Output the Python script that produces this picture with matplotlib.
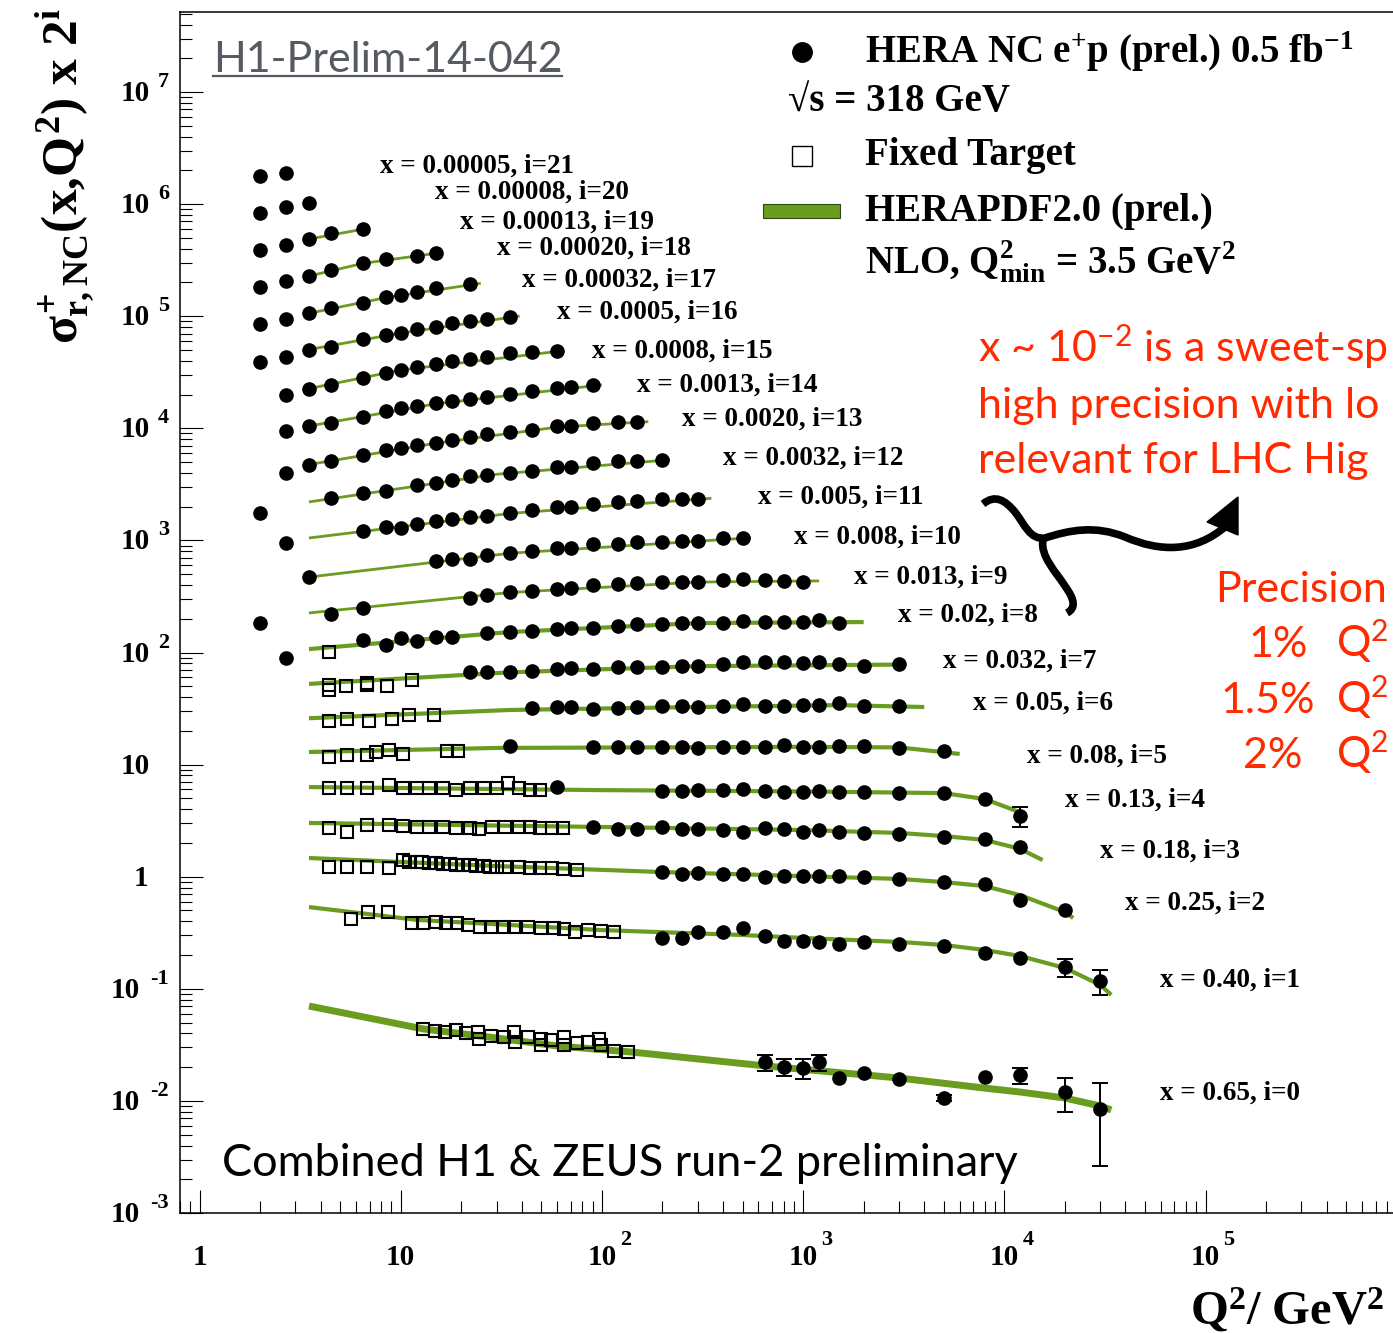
import numpy as np
import matplotlib
matplotlib.use("Agg")
import matplotlib.pyplot as plt
from matplotlib import transforms
from matplotlib.lines import Line2D
from matplotlib.patches import Rectangle, PathPatch, Polygon
from matplotlib.path import Path
from matplotlib.ticker import LogLocator, NullFormatter

plt.rcParams['font.family'] = ['Liberation Serif', 'DejaVu Sans']
plt.rcParams['font.weight'] = 'bold'
plt.rcParams['mathtext.fontset'] = 'custom'
plt.rcParams['mathtext.rm'] = 'Liberation Serif:bold'
plt.rcParams['mathtext.it'] = 'Liberation Serif:bold'
plt.rcParams['mathtext.bf'] = 'Liberation Serif:bold'
plt.rcParams['mathtext.sf'] = 'Liberation Serif:bold'

# bins : i -> x value
x_bins = ["0.65", "0.40", "0.25", "0.18", "0.13", "0.08", "0.05", "0.032", "0.02", "0.013",
          "0.008", "0.005", "0.0032", "0.0020", "0.0013", "0.0008", "0.0005", "0.00032",
          "0.00020", "0.00013", "0.00008", "0.00005"]

# HERA combined points (Q2, sigma_r), plotted as sigma_r * 2^i
hera_q2 = {
    21: [2.0, 2.7],
    20: [2.0, 2.7, 3.5],
    19: [2.0, 2.7, 3.5, 4.5, 6.5],
    18: [2.0, 2.7, 3.5, 4.5, 6.5, 8.5, 12, 15],
    17: [2.0, 2.7, 3.5, 4.5, 6.5, 8.5, 10, 12, 15, 22],
    16: [2.0, 2.7, 3.5, 4.5, 6.5, 8.5, 10, 12, 15, 18, 22, 27, 35],
    15: [2.7, 3.5, 4.5, 6.5, 8.5, 10, 12, 15, 18, 22, 27, 35, 45, 60],
    14: [2.7, 3.5, 4.5, 6.5, 8.5, 10, 12, 15, 18, 22, 27, 35, 45, 60, 70, 90],
    13: [2.7, 3.5, 4.5, 6.5, 8.5, 10, 12, 15, 18, 22, 27, 35, 45, 60, 70, 90, 120, 150],
    12: [2.0, 4.5, 6.5, 8.5, 12, 15, 18, 22, 27, 35, 45, 60, 70, 90, 120, 150, 200],
    11: [2.7, 6.5, 8.5, 10, 12, 15, 18, 22, 27, 35, 45, 60, 70, 90, 120, 150, 200, 250, 300],
    10: [3.5, 15, 18, 22, 27, 35, 45, 60, 70, 90, 120, 150, 200, 250, 300, 400, 500],
    9: [2.0, 4.5, 6.5, 22, 27, 35, 45, 60, 70, 90, 120, 150, 200, 250, 300, 400, 500, 650, 800, 1000],
    8: [2.7, 6.5, 8.5, 10, 12, 15, 18, 27, 35, 45, 60, 70, 90, 120, 150, 200, 250, 300, 400, 500,
        650, 800, 1000, 1200, 1500],
    7: [22, 27, 35, 45, 60, 70, 90, 120, 150, 200, 250, 300, 400, 500, 650, 800, 1000, 1200, 1500,
        2000, 3000],
    6: [45, 60, 70, 90, 120, 150, 200, 250, 300, 400, 500, 650, 800, 1000, 1200, 1500, 2000, 3000],
    5: [35, 90, 120, 150, 200, 250, 300, 400, 500, 650, 800, 1000, 1200, 1500, 2000, 3000, 5000],
    4: [60, 200, 250, 300, 400, 500, 650, 800, 1000, 1200, 1500, 2000, 3000, 5000, 8000, 12000],
    3: [90, 120, 150, 200, 250, 300, 400, 500, 650, 800, 1000, 1200, 1500, 2000, 3000, 5000, 8000,
        12000],
    2: [200, 250, 300, 400, 500, 650, 800, 1000, 1200, 1500, 2000, 3000, 5000, 8000, 12000, 20000],
    1: [200, 250, 300, 400, 500, 650, 800, 1000, 1200, 1500, 2000, 3000, 5000, 8000, 12000, 20000,
        30000],
    0: [650, 800, 1000, 1200, 1500, 2000, 3000, 5000, 8000, 12000, 20000, 30000],
}
hera_sigma = {
    21: [0.85, 0.90],
    20: [0.80, 0.90, 0.975],
    19: [0.742, 0.823, 0.931, 1.05, 1.143],
    18: [0.695, 0.786, 0.871, 0.986, 1.138, 1.235, 1.314, 1.398],
    17: [0.650, 0.720, 0.814, 0.902, 1.0, 1.131, 1.179, 1.254, 1.361, 1.477],
    16: [0.596, 0.660, 0.763, 0.811, 0.956, 1.038, 1.081, 1.174, 1.223, 1.328, 1.383, 1.441, 1.502],
    15: [0.604, 0.684, 0.742, 0.857, 0.950, 1.01, 1.074, 1.143, 1.215, 1.266, 1.319, 1.433, 1.462,
         1.492],
    14: [0.578, 0.640, 0.681, 0.770, 0.87, 0.925, 0.965, 1.025, 1.07, 1.115, 1.16, 1.235, 1.31, 1.41,
         1.43, 1.487],
    13: [0.487, 0.574, 0.623, 0.705, 0.781, 0.814, 0.866, 0.902, 0.960, 1.021, 1.086, 1.131, 1.179,
         1.280, 1.280, 1.361, 1.389, 1.389],
    12: [0.429, 0.584, 0.647, 0.674, 0.763, 0.795, 0.845, 0.917, 0.936, 0.975, 1.016, 1.104, 1.104,
         1.198, 1.248, 1.248, 1.274],
    11: [0.463, 0.592, 0.643, 0.630, 0.684, 0.727, 0.758, 0.789, 0.806, 0.857, 0.912, 0.970, 0.970,
         1.031, 1.074, 1.097, 1.143, 1.143, 1.143],
    10: [0.460, 0.639, 0.666, 0.666, 0.723, 0.753, 0.785, 0.835, 0.835, 0.906, 0.906, 0.944, 0.944,
         0.964, 0.964, 1.025, 1.025],
    9: [0.358, 0.431, 0.487, 0.598, 0.636, 0.677, 0.691, 0.720, 0.735, 0.781, 0.798, 0.814, 0.831,
        0.831, 0.831, 0.866, 0.884, 0.866, 0.848, 0.831],
    8: [0.348, 0.505, 0.455, 0.526, 0.494, 0.537, 0.537, 0.583, 0.595, 0.607, 0.632, 0.646, 0.646,
        0.673, 0.701, 0.701, 0.715, 0.715, 0.715, 0.745, 0.730, 0.730, 0.730, 0.761, 0.715],
    7: [0.524, 0.524, 0.524, 0.534, 0.557, 0.569, 0.557, 0.580, 0.580, 0.580, 0.592, 0.592, 0.617,
        0.643, 0.643, 0.643, 0.630, 0.643, 0.617, 0.592, 0.617],
    6: [0.500, 0.510, 0.510, 0.489, 0.500, 0.510, 0.521, 0.521, 0.510, 0.521, 0.542, 0.521, 0.521,
        0.531, 0.531, 0.553, 0.521, 0.521],
    5: [0.458, 0.449, 0.449, 0.453, 0.449, 0.449, 0.440, 0.449, 0.453, 0.449, 0.468, 0.449, 0.449,
        0.458, 0.458, 0.440, 0.414],
    4: [0.394, 0.363, 0.363, 0.371, 0.371, 0.379, 0.363, 0.356, 0.356, 0.363, 0.356, 0.356, 0.348,
        0.348, 0.308, 0.218],
    3: [0.347, 0.333, 0.333, 0.347, 0.333, 0.333, 0.326, 0.313, 0.340, 0.333, 0.313, 0.326, 0.313,
        0.307, 0.301, 0.282, 0.271, 0.230],
    2: [0.275, 0.264, 0.270, 0.264, 0.264, 0.248, 0.253, 0.253, 0.253, 0.253, 0.248, 0.239, 0.224,
        0.215, 0.155, 0.126],
    1: [0.142, 0.142, 0.161, 0.161, 0.174, 0.148, 0.133, 0.133, 0.131, 0.126, 0.131, 0.126, 0.121,
        0.104, 0.094, 0.0784, 0.059],
    0: [0.0222, 0.0201, 0.0196, 0.0222, 0.0160, 0.0178, 0.0157, 0.0106, 0.0164, 0.0170, 0.0120,
        0.0085],
}
# visible error bars (same order as hera_q2 of that bin)
hera_err = {
    4: [0] * 15 + [0.044],
    1: [0] * 15 + [0.0145, 0.0147],
    0: [0.0037, 0.0034, 0.0040, 0.0037, 0, 0, 0, 0.0006, 0, 0.0028, 0.0040, 0.0059],
}

# fixed target points
ft_q2 = {
    8: [4.40],
    7: [4.40, 4.40, 5.35, 6.80, 6.80, 8.53, 11.4],
    6: [4.40, 5.42, 6.95, 9.06, 11.0, 14.7],
    5: [4.40, 5.42, 6.80, 7.54, 8.75, 10.3, 16.9, 19.3],
    4: [4.40, 5.42, 6.80, 8.75, 10.3, 12.0, 13.8, 16.2, 18.8, 22.1, 25.9, 30.0, 34.2, 38.7, 43.7,
        49.3],
    3: [4.40, 5.42, 6.80, 8.75, 10.3, 12.0, 13.8, 16.2, 18.8, 22.1, 24.4, 28.3, 33.0, 38.7, 43.7,
        49.3, 56.5, 64.1],
    2: [4.40, 5.42, 6.80, 8.75, 10.3, 11.0, 12.0, 12.8, 13.8, 14.9, 16.2, 17.6, 18.8, 20.4, 22.1,
        23.7, 25.9, 27.7, 30.0, 33.0, 38.7, 43.7, 49.3, 56.5, 64.1, 75.4],
    1: [5.66, 6.89, 8.66, 11.4, 12.9, 14.9, 16.8, 19.0, 21.5, 24.8, 28.1, 32.6, 36.6, 42.9, 49.8,
        57.8, 64.9, 73.7, 85.5, 99.3, 115],
    0: [12.9, 14.8, 16.6, 18.8, 21.2, 24.2, 24.4, 28.1, 32.6, 36.6, 37.0, 42.9, 49.8, 49.8, 55.8,
        64.9, 64.9, 75.4, 85.5, 97.2, 99.3, 115, 135],
}
ft_sigma = {
    8: [0.394],
    7: [0.400, 0.362, 0.393, 0.418, 0.400, 0.393, 0.444],
    6: [0.380, 0.398, 0.382, 0.398, 0.433, 0.433],
    5: [0.366, 0.381, 0.381, 0.405, 0.422, 0.389, 0.414, 0.414],
    4: [0.386, 0.386, 0.386, 0.411, 0.386, 0.386, 0.386, 0.386, 0.371, 0.386, 0.386, 0.386, 0.428,
        0.386, 0.371, 0.371],
    3: [0.340, 0.313, 0.362, 0.362, 0.354, 0.347, 0.347, 0.347, 0.340, 0.340, 0.333, 0.347, 0.347,
        0.347, 0.347, 0.340, 0.340, 0.340],
    2: [0.305, 0.305, 0.305, 0.299, 0.352, 0.338, 0.338, 0.338, 0.331, 0.331, 0.325, 0.325, 0.318,
        0.318, 0.318, 0.311, 0.311, 0.305, 0.305, 0.305, 0.305, 0.299, 0.299, 0.299, 0.293, 0.287],
    1: [0.210, 0.242, 0.242, 0.193, 0.193, 0.197, 0.193, 0.193, 0.185, 0.178, 0.178, 0.178, 0.178,
        0.178, 0.174, 0.174, 0.171, 0.161, 0.167, 0.164, 0.161],
    0: [0.0438, 0.0420, 0.0412, 0.0429, 0.0403, 0.0412, 0.0357, 0.0379, 0.0371, 0.0412, 0.0335,
        0.0371, 0.0357, 0.0315, 0.0350, 0.0371, 0.0315, 0.0329, 0.0335, 0.0357, 0.0315, 0.0279,
        0.0273],
}

# HERAPDF2.0 curves (knots)
pdf_q2 = {
    19: [3.5, 6.5],
    18: [3.5, 6.5, 15.5],
    17: [3.5, 8.5, 25],
    16: [3.5, 10, 39],
    15: [3.5, 10, 64],
    14: [3.5, 15, 100],
    13: [3.5, 15, 60, 170],
    12: [3.5, 30, 218],
    11: [3.5, 35, 350],
    10: [3.5, 35, 550],
    9: [3.5, 35, 300, 1200],
    8: [3.5, 35, 300, 2000],
    7: [3.5, 35, 300, 3200],
    6: [3.5, 35, 300, 1500, 4000],
    5: [3.5, 30, 1000, 3000, 6000],
    4: [3.5, 100, 1000, 5000, 8000, 12500],
    3: [3.5, 100, 1000, 3000, 5000, 8000, 12000, 15500],
    2: [3.5, 30, 200, 1000, 3000, 5000, 8000, 12000, 20000, 22000],
    1: [3.5, 12, 100, 500, 1000, 3000, 5000, 8000, 12000, 20000, 30000, 34000],
    0: [3.5, 13, 30, 60, 140, 650, 3000, 8000, 12000, 20000, 30000, 34000],
}
pdf_sigma = {
    19: [0.93, 1.14],
    18: [0.87, 1.13, 1.40],
    17: [0.81, 1.12, 1.50],
    16: [0.77, 1.08, 1.53],
    15: [0.69, 1.01, 1.50],
    14: [0.64, 1.01, 1.49],
    13: [0.58, 0.90, 1.25, 1.40],
    12: [0.538, 0.95, 1.28],
    11: [0.513, 0.85, 1.16],
    10: [0.46, 0.75, 1.03],
    9: [0.44, 0.67, 0.83, 0.85],
    8: [0.419, 0.595, 0.715, 0.73],
    7: [0.41, 0.52, 0.59, 0.61],
    6: [0.405, 0.48, 0.51, 0.53, 0.51],
    5: [0.405, 0.44, 0.45, 0.445, 0.389],
    4: [0.394, 0.37, 0.36, 0.348, 0.308, 0.228],
    3: [0.377, 0.347, 0.326, 0.307, 0.288, 0.266, 0.221, 0.176],
    2: [0.367, 0.311, 0.275, 0.253, 0.239, 0.224, 0.206, 0.171, 0.121, 0.107],
    1: [0.268, 0.206, 0.167, 0.151, 0.142, 0.131, 0.123, 0.111, 0.098, 0.0767, 0.0541, 0.0441],
    0: [0.0702, 0.0438, 0.0364, 0.0309, 0.0273, 0.0205, 0.0160, 0.0130, 0.0120, 0.0106, 0.0090,
        0.0083],
}

# where the bin labels sit (pixel position of their left/middle)
label_pos = [(1160, 1093), (1160, 980), (1125, 903), (1100, 851), (1065, 800), (1027, 756),
             (973, 703), (943, 661), (898, 615), (854, 577), (794, 537), (758, 497), (723, 458),
             (682, 419), (637, 385), (592, 351), (557, 312), (522, 280), (497, 248), (460, 222),
             (435, 192), (380, 166)]

GREEN = "#6a9c1f"
RED = "#ff2a00"
W, H = 1393, 1333


def pix(px, py):
    return px / W, 1 - py / H


fig = plt.figure(figsize=(W / 100, H / 100), dpi=100)
ax = fig.add_axes([180 / W, 120 / H, (1420 - 180) / W, (1213 - 12) / H])
ax.set_xscale('log')
ax.set_yscale('log')
ax.set_xlim(10 ** ((180 - 199.5) / 201.2), 10 ** ((1420 - 199.5) / 201.2))
ax.set_ylim(1e-3, 10 ** ((1213 - 12) / 112.1 - 3))

for i in range(22):
    scale = 2.0 ** i
    if i in pdf_q2:
        lw = 5.0 if i == 0 else (3.0 if i <= 8 else 2.0)
        ax.plot(pdf_q2[i], np.array(pdf_sigma[i]) * scale, color=GREEN, lw=lw,
                solid_capstyle='butt', zorder=2)
    if i in ft_q2:
        ax.plot(ft_q2[i], np.array(ft_sigma[i]) * scale, ls='none', marker='s', ms=9,
                mfc='none', mec='black', mew=1.5, zorder=3)
    q = np.array(hera_q2[i])
    s = np.array(hera_sigma[i]) * scale
    if i in hera_err:
        e = np.array(hera_err[i]) * scale
        m = e > 0
        ax.errorbar(q[m], s[m], yerr=e[m], fmt='none', ecolor='black', elinewidth=1.4,
                    capsize=6, capthick=1.4, zorder=4)
    ax.plot(q, s, ls='none', marker='o', ms=9.5, color='black', zorder=5)

# axis styling, ROOT-like
for sp in ax.spines.values():
    sp.set_linewidth(1.1)
ax.xaxis.set_major_locator(LogLocator(base=10, numticks=30))
ax.yaxis.set_major_locator(LogLocator(base=10, numticks=30))
ax.xaxis.set_minor_locator(LogLocator(base=10, subs=np.arange(2, 10), numticks=30))
ax.yaxis.set_minor_locator(LogLocator(base=10, subs=np.arange(2, 10), numticks=30))
ax.xaxis.set_minor_formatter(NullFormatter())
ax.yaxis.set_minor_formatter(NullFormatter())
ax.tick_params(which='major', direction='in', length=16.5, width=0.8,
               labelleft=False, labelbottom=False)
ax.tick_params(which='minor', direction='in', length=8.5, width=0.8)

# tick labels drawn by hand
ytr = transforms.blended_transform_factory(fig.transFigure, ax.transData)
for k in range(-3, 8):
    base = transforms.offset_copy(ytr, fig=fig, x=0, y=-9, units='dots')
    sup = transforms.offset_copy(ytr, fig=fig, x=0, y=5, units='dots')
    if k == 0:
        ax.text(148 / W, 1.0, "1", transform=base, ha='right', va='baseline', fontsize=21)
    elif k == 1:
        ax.text(150 / W, 10.0, "10", transform=base, ha='right', va='baseline', fontsize=21)
    elif k > 1:
        ax.text(150 / W, 10.0 ** k, "10", transform=base, ha='right', va='baseline', fontsize=21)
        ax.text(158 / W, 10.0 ** k, str(k), transform=sup, ha='left', va='baseline', fontsize=16)
    else:
        ax.text(140 / W, 10.0 ** k, "10", transform=base, ha='right', va='baseline', fontsize=21)
        ax.text(150 / W, 10.0 ** k, str(k), transform=sup, ha='left', va='baseline', fontsize=16)

xtr = transforms.blended_transform_factory(ax.transData, fig.transFigure)
for k in range(0, 6):
    yb = 1 - 1265 / H
    if k == 0:
        ax.text(1.0, yb, "1", transform=xtr, ha='center', va='baseline', fontsize=21)
    elif k == 1:
        ax.text(10.0, yb, "10", transform=xtr, ha='center', va='baseline', fontsize=21)
    else:
        ax.text(10.0 ** k, yb, "10", transform=xtr, ha='center', va='baseline', fontsize=21)
        t = transforms.offset_copy(xtr, fig=fig, x=18, y=0, units='dots')
        ax.text(10.0 ** k, 1 - 1245 / H, str(k), transform=t, ha='left', va='baseline',
                fontsize=16)

# axis titles
fig.text(*pix(1190, 1325), r"Q$^{2}$/ GeV$^{2}$", fontsize=35, ha='left', va='baseline')
fig.text(*pix(66, 8), r"$\sigma^{+}_{r,NC}(x{,}Q^{2})$ x 2$^{i}$", fontsize=37, rotation=90,
         ha='center', va='top')

# bin labels
for i in range(22):
    px, py = label_pos[i]
    fig.text(*pix(px, py), f"x = {x_bins[i]}, i={i}", fontsize=19.5, ha='left', va='center')

# legend
fig.add_artist(Line2D([pix(802, 52)[0]], [pix(802, 52)[1]], marker='o', ms=14, color='black',
                      transform=fig.transFigure))
fig.text(*pix(865, 52), r"HERA NC e$^{+}$p (prel.) 0.5 fb$^{\mathregular{-1}}$", fontsize=28,
         ha='left', va='center')
fig.text(*pix(788, 102), "√s = 318 GeV", fontsize=28, ha='left', va='center')
fig.add_artist(Line2D([pix(802, 156)[0]], [pix(802, 156)[1]], marker='s', ms=15, mfc='white',
                      mec='black', mew=1.0, transform=fig.transFigure))
fig.text(*pix(865, 156), "Fixed Target", fontsize=28, ha='left', va='center')
x0, y0 = pix(763, 218)
fig.add_artist(Rectangle((x0, y0), 77 / W, 14 / H, facecolor=GREEN, edgecolor='#2f4a10',
                         lw=0.8, transform=fig.transFigure))
fig.text(*pix(865, 212), "HERAPDF2.0 (prel.)", fontsize=28, ha='left', va='center')
fig.text(*pix(865, 262), r"NLO, Q$^{2}_{min}$ = 3.5 GeV$^{2}$", fontsize=28, ha='left',
         va='center')

# H1 preliminary tag
fig.text(*pix(213, 72), "H1-Prelim-14-042", fontsize=31, family='Lato', fontweight='normal',
         color='#565b61', ha='left', va='baseline')
fig.add_artist(Line2D([213 / W, 562 / W], [1 - 76 / H, 1 - 76 / H], color='#565b61', lw=1.6,
                      transform=fig.transFigure))
fig.text(*pix(222, 1176), "Combined H1 & ZEUS run-2 preliminary", fontsize=32.5, family='Lato',
         fontweight='normal', color='black', ha='left', va='baseline')

# red annotation (only the part that is visible on the slide)
red_kw = dict(family='Lato', fontweight='normal', color=RED, ha='left', va='baseline',
              fontsize=31)
fig.text(*pix(978, 362), r"x ~ 10$\mathregular{^{-2}}$ is a sweet-sp", **red_kw)
fig.text(*pix(978, 418), "high precision with lo", **red_kw)
fig.text(*pix(978, 473), "relevant for LHC Hig", **red_kw)
fig.text(*pix(1215, 602), "Precision", **red_kw)
fig.text(*pix(1248, 657), "1%", **red_kw)
fig.text(*pix(1220, 713), "1.5%", **red_kw)
fig.text(*pix(1243, 768), "2%", **red_kw)
for yy in (657, 713, 768):
    fig.text(*pix(1336, yy), r"Q$\mathregular{^{2}}$", **red_kw)


# wavy arrow
def to_fig(pts):
    return [pix(a, b) for a, b in pts]


main_pts = [(983, 504), (995, 494), (1005, 500), (1015, 512),
            (1025, 525), (1030, 540), (1045, 538),
            (1070, 530), (1095, 525), (1125, 537),
            (1160, 552), (1195, 553), (1226, 526)]
codes = [Path.MOVETO] + [Path.CURVE4] * 12
fig.add_artist(PathPatch(Path(to_fig(main_pts), codes), fill=False, lw=5.5, ec='black',
                         capstyle='butt', transform=fig.transFigure))
branch_pts = [(1043, 540), (1040, 556), (1056, 572), (1065, 586),
              (1075, 600), (1076, 608), (1067, 613)]
codes_b = [Path.MOVETO] + [Path.CURVE4] * 6
fig.add_artist(PathPatch(Path(to_fig(branch_pts), codes_b), fill=False, lw=5.5, ec='black',
                         capstyle='butt', transform=fig.transFigure))
fig.add_artist(Polygon(to_fig([(1238, 497), (1238, 535), (1207, 522)]), closed=True,
                       fc='black', ec='black', transform=fig.transFigure))

fig.savefig("out.png", dpi=100)
